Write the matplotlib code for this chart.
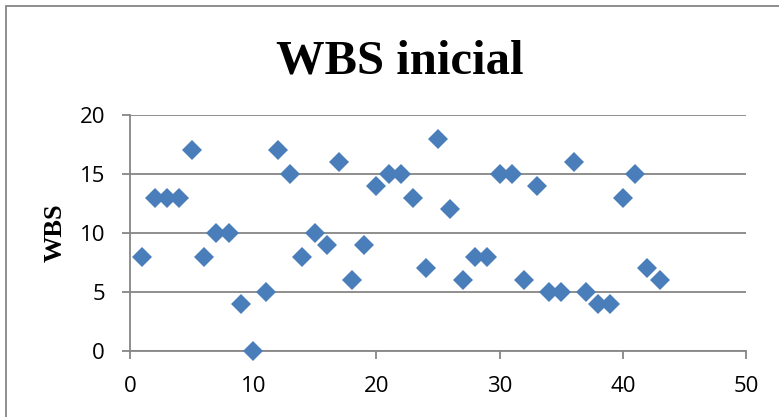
import matplotlib
matplotlib.use("Agg")
import matplotlib.pyplot as plt
from matplotlib.patches import Rectangle

# data
x_vals = list(range(1, 44))
wbs = [8, 13, 13, 13, 17, 8, 10, 10, 4, 0,
       5, 17, 15, 8, 10, 9, 16, 6, 9, 14,
       15, 15, 13, 7, 18, 12, 6, 8, 8, 15,
       15, 6, 14, 5, 5, 16, 5, 4, 4, 13,
       15, 7, 6]
x_ticks = [0, 10, 20, 30, 40, 50]
y_ticks = [0, 5, 10, 15, 20]

W, H = 779, 417
fig = plt.figure(figsize=(W / 100, H / 100), dpi=100)
ax = fig.add_axes([130 / W, 1 - 351 / H, (746 - 130) / W, (351 - 115) / H])

grey = "#868686"
ax.plot(x_vals, wbs, linestyle="none", marker="D", markersize=10,
        color="#4a7ebb", markeredgewidth=0, zorder=3, clip_on=False)

ax.set_xlim(0, 50)
ax.set_ylim(0, 20)
ax.set_xticks(x_ticks)
ax.set_yticks(y_ticks)
ax.yaxis.grid(True, color=grey, linewidth=1.3)
ax.set_axisbelow(True)

for s in ["top", "right"]:
    ax.spines[s].set_visible(False)
for s in ["left", "bottom"]:
    ax.spines[s].set_color(grey)
    ax.spines[s].set_linewidth(1.3)

ax.tick_params(axis="both", colors=grey, width=1.3, length=6, labelcolor="black",
               labelsize=16)
for lbl in ax.get_xticklabels() + ax.get_yticklabels():
    lbl.set_fontfamily("Open Sans")
ax.tick_params(axis="x", pad=12)
ax.tick_params(axis="y", pad=12)

ax.set_ylabel("WBS", fontfamily="Liberation Serif", fontweight="bold",
              fontsize=19, labelpad=9)
fig.text(400 / W, 1 - 73 / H, "WBS inicial", ha="center", va="baseline",
         fontfamily="Liberation Serif", fontweight="bold", fontsize=35)

fig.patches.append(Rectangle((6 / W, -0.1), 1.2, 1.1 - 6 / H, transform=fig.transFigure,
                             fill=False, edgecolor=grey, linewidth=1.3))

fig.savefig("out.png", dpi=100)
